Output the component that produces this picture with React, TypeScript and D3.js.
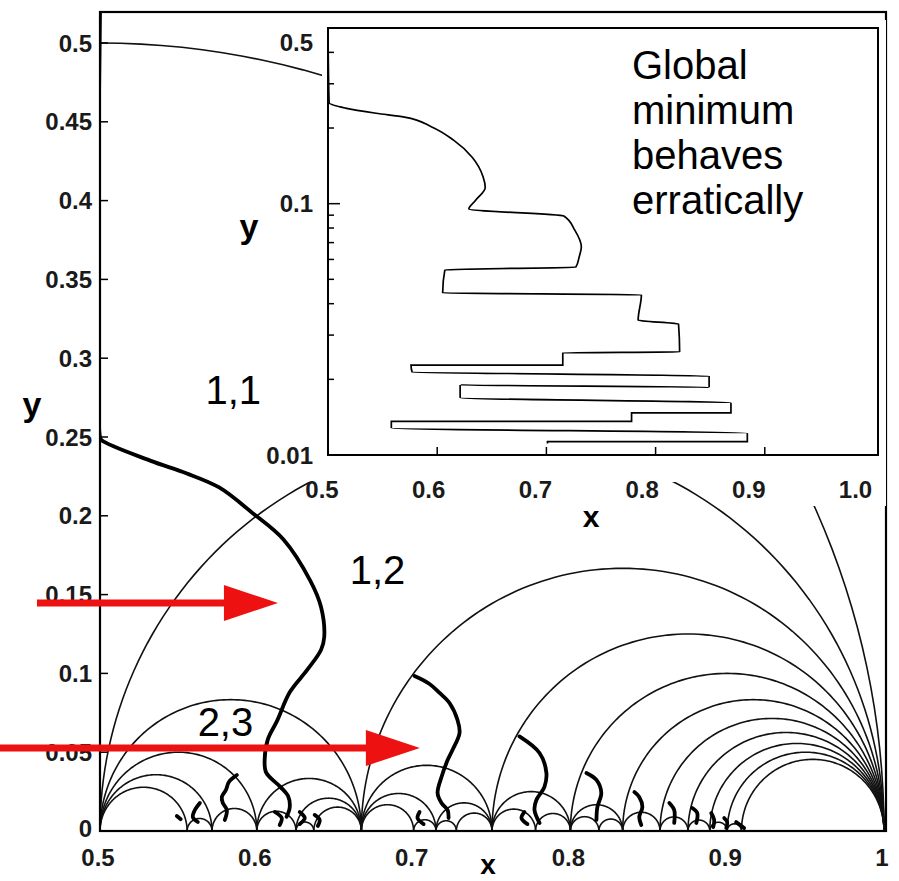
import React, { useEffect, useRef } from "react";
import * as d3 from "d3";

const W = 899;
const H = 881;
const FONT = "'Liberation Sans', Arial, Helvetica, sans-serif";
const RED = "#ee1111";

// main panel ticks
const X_TICKS = [0.5, 0.6, 0.7, 0.8, 0.9, 1];
const X_TICK_LABELS = ["0.5", "0.6", "0.7", "0.8", "0.9", "1"];
const Y_TICKS = [0, 0.05, 0.1, 0.15, 0.2, 0.25, 0.3, 0.35, 0.4, 0.45, 0.5];
const Y_TICK_LABELS = ["0", "0.05", "0.1", "0.15", "0.2", "0.25", "0.3", "0.35", "0.4", "0.45", "0.5"];

// Farey semicircles, endpoints on the x axis
const ARCS_FROM_ONE: [number, number][] = [
  [0, 1], [1 / 2, 1], [2 / 3, 1], [3 / 4, 1], [4 / 5, 1], [5 / 6, 1],
  [6 / 7, 1], [7 / 8, 1], [8 / 9, 1], [9 / 10, 1], [10 / 11, 1],
];
const ARCS_FROM_HALF: [number, number][] = [
  [1 / 2, 2 / 3], [1 / 2, 3 / 5], [1 / 2, 4 / 7], [1 / 2, 5 / 9],
];
const ARCS_SMALL: [number, number][] = [
  [5 / 9, 4 / 7], [4 / 7, 3 / 5], [3 / 5, 2 / 3], [3 / 5, 5 / 8], [5 / 8, 2 / 3],
  [5 / 8, 7 / 11], [7 / 11, 2 / 3], [2 / 3, 3 / 4], [2 / 3, 5 / 7], [2 / 3, 7 / 10],
  [7 / 10, 5 / 7], [5 / 7, 3 / 4], [5 / 7, 8 / 11], [8 / 11, 3 / 4], [3 / 4, 4 / 5],
  [3 / 4, 7 / 9], [7 / 9, 4 / 5], [4 / 5, 5 / 6], [4 / 5, 9 / 11], [9 / 11, 5 / 6],
  [5 / 6, 6 / 7], [6 / 7, 7 / 8], [7 / 8, 8 / 9], [8 / 9, 9 / 10], [9 / 10, 10 / 11],
];

// thick boundary curves in the main panel [x, y]
const BOUNDARY_MAIN: [number, number][] = [
  [0.5, 0.52], [0.5, 0.25], [0.501, 0.248], [0.532, 0.235], [0.555, 0.227], [0.576, 0.218],
  [0.597, 0.202], [0.617, 0.185], [0.634, 0.159], [0.641, 0.142], [0.643, 0.123],
  [0.641, 0.115], [0.632, 0.102], [0.621, 0.088], [0.613, 0.07], [0.607, 0.058],
  [0.605, 0.045], [0.606, 0.037], [0.615, 0.028], [0.62, 0.022], [0.621, 0.015], [0.619, 0.009],
];
const BOUNDARY_B: [number, number][] = [
  [0.7006, 0.0983], [0.7102, 0.0933], [0.7166, 0.0876], [0.7229, 0.0812], [0.728, 0.0704],
  [0.7293, 0.0622], [0.7248, 0.0514], [0.7217, 0.045], [0.7178, 0.0343], [0.7153, 0.0241],
  [0.7178, 0.0178], [0.7217, 0.0133], [0.7223, 0.0082],
];
const BOUNDARY_C: [number, number][] = [
  [0.7675, 0.06], [0.7803, 0.0495], [0.7847, 0.0368], [0.7834, 0.0279], [0.7783, 0.0197],
  [0.7771, 0.0133], [0.7803, 0.0051],
];
const BOUNDARY_D: [number, number][] = [
  [0.8102, 0.0368], [0.8166, 0.0324], [0.8197, 0.0241], [0.8172, 0.0152], [0.8166, 0.007],
];
const BOUNDARY_E: [number, number][] = [
  [0.8408, 0.0247], [0.8439, 0.0216], [0.8459, 0.0152], [0.8439, 0.0089], [0.8452, 0.0038],
];
const BOUNDARY_F: [number, number][] = [[0.8631, 0.0178], [0.8662, 0.0133], [0.8662, 0.0051]];
const BOUNDARY_G: [number, number][] = [[0.8777, 0.0146], [0.8809, 0.0114], [0.8803, 0.0051]];
const BOUNDARY_H: [number, number][] = [[0.8898, 0.0114], [0.8917, 0.007], [0.8911, 0.0025]];
const BOUNDARY_I: [number, number][] = [[0.8981, 0.0082], [0.9, 0.0057], [0.8994, 0.0019]];
const BOUNDARY_J: [number, number][] = [[0.9057, 0.0057], [0.9083, 0.0038], [0.9108, 0.0019]];
const BOUNDARY_K: [number, number][] = [
  [0.5873, 0.0355], [0.5822, 0.0311], [0.5803, 0.026], [0.5777, 0.0216], [0.5783, 0.0178],
  [0.5809, 0.0133], [0.5796, 0.007],
];
const BOUNDARY_L: [number, number][] = [[0.5637, 0.0178], [0.5605, 0.0133], [0.5592, 0.0089], [0.5624, 0.0057]];
const SPECKS: [number, number][][] = [
  [[0.549, 0.0095], [0.5515, 0.0075]],
  [[0.6115, 0.0121], [0.6159, 0.0082], [0.6146, 0.0038]],
  [[0.6274, 0.0121], [0.6306, 0.0082], [0.6274, 0.0044]],
  [[0.6369, 0.0102], [0.6401, 0.007], [0.6389, 0.0032]],
  [[0.7038, 0.0121], [0.7025, 0.0082], [0.7064, 0.0044]],
  [[0.7707, 0.0121], [0.7688, 0.0082], [0.7726, 0.0044]],
];

// inset: global minimum, x vs log y
const INSET_X_TICKS = [0.5, 0.6, 0.7, 0.8, 0.9, 1.0];
const INSET_X_LABELS = ["0.5", "0.6", "0.7", "0.8", "0.9", "1.0"];
const INSET_Y_LABELLED = [0.01, 0.1, 0.5];
const INSET_Y_LABELS = ["0.01", "0.1", "0.5"];
const INSET_Y_MINOR = [0.02, 0.03, 0.04, 0.05, 0.06, 0.07, 0.08, 0.09, 0.2, 0.3, 0.4];
const GLOBAL_MIN: [number, number][] = [
  [0.5, 0.5], [0.501, 0.252], [0.516, 0.24], [0.544, 0.229], [0.57, 0.221], [0.595, 0.202],
  [0.615, 0.179], [0.632, 0.153], [0.642, 0.128], [0.644, 0.116], [0.635, 0.103],
  [0.629, 0.0952], [0.716, 0.0893], [0.726, 0.0785], [0.732, 0.0673], [0.73, 0.0614],
  [0.727, 0.056], [0.607, 0.0545], [0.605, 0.0441], [0.787, 0.0434], [0.784, 0.0344],
  [0.821, 0.0332], [0.822, 0.0257], [0.715, 0.0255], [0.715, 0.0228], [0.576, 0.0228],
  [0.577, 0.0214], [0.849, 0.0206], [0.849, 0.0186], [0.621, 0.019], [0.621, 0.0169],
  [0.869, 0.0161], [0.869, 0.0147], [0.778, 0.0147], [0.778, 0.0136], [0.558, 0.0136],
  [0.558, 0.0128], [0.884, 0.0122], [0.884, 0.0113], [0.701, 0.0113], [0.701, 0.0111],
];

// annotations in main-panel data units
const REGION_LABELS = [
  { text: "1,1", x: 0.585, y: 0.28 },
  { text: "1,2", x: 0.677, y: 0.166 },
  { text: "2,3", x: 0.58, y: 0.0692 },
];
const ARROWS = [
  { x0: 0.4598, x1: 0.6135, y: 0.1447 },
  { x0: 0.436, x1: 0.704, y: 0.0527 },
];
const NOTE = ["Global", "minimum", "behaves", "erratically"];

export default function App() {
  const ref = useRef<SVGSVGElement>(null);

  useEffect(() => {
    if (!ref.current) return;
    const svg = d3.select(ref.current);
    svg.selectAll("*").remove();

    const x = d3.scaleLinear().domain([0.5, 1]).range([100, 884]);
    const y = d3.scaleLinear().domain([0, 0.5]).range([831, 43]);

    svg.append("rect").attr("width", W).attr("height", H).attr("fill", "#fff");
    svg.append("defs").append("clipPath").attr("id", "plotclip")
      .append("rect").attr("x", 100).attr("y", 12).attr("width", 786).attr("height", 819);

    const plot = svg.append("g").attr("clip-path", "url(#plotclip)");

    // semicircles
    const angles = d3.range(0, 121).map((i) => (Math.PI * i) / 120);
    const arcLine = d3.line<number>();
    const arcPath = ([a, b]: [number, number]) => {
      const c = (a + b) / 2;
      const r = (b - a) / 2;
      return arcLine(angles.map((t) => [x(c + r * Math.cos(t)), y(r * Math.sin(t))] as [number, number]));
    };
    plot.selectAll("path.arc")
      .data([...ARCS_FROM_ONE, ...ARCS_FROM_HALF, ...ARCS_SMALL])
      .join("path")
      .attr("class", "arc")
      .attr("d", (d) => arcPath(d))
      .attr("fill", "none")
      .attr("stroke", "#111")
      .attr("stroke-width", 1.6);

    const thick = d3.line<[number, number]>()
      .x((d) => x(d[0]))
      .y((d) => y(d[1]))
      .curve(d3.curveCatmullRom.alpha(0.5));
    const boundaries = [
      BOUNDARY_MAIN, BOUNDARY_B, BOUNDARY_C, BOUNDARY_D, BOUNDARY_E, BOUNDARY_F,
      BOUNDARY_G, BOUNDARY_H, BOUNDARY_I, BOUNDARY_J, BOUNDARY_K, BOUNDARY_L, ...SPECKS,
    ];
    plot.selectAll("path.bnd")
      .data(boundaries)
      .join("path")
      .attr("class", "bnd")
      .attr("d", (d) => thick(d))
      .attr("fill", "none")
      .attr("stroke", "#000")
      .attr("stroke-width", 3.8)
      .attr("stroke-linecap", "round")
      .attr("stroke-linejoin", "round");

    // main frame
    svg.append("rect")
      .attr("x", 100).attr("y", 12).attr("width", 786).attr("height", 819)
      .attr("fill", "none").attr("stroke", "#000").attr("stroke-width", 2.2);

    svg.selectAll("line.ytick")
      .data(Y_TICKS)
      .join("line")
      .attr("class", "ytick")
      .attr("x1", 100).attr("x2", 108)
      .attr("y1", (d) => y(d)).attr("y2", (d) => y(d))
      .attr("stroke", "#000").attr("stroke-width", 1.5);

    svg.selectAll("text.ylab")
      .data(Y_TICKS)
      .join("text")
      .attr("class", "ylab")
      .attr("x", 92)
      .attr("y", (d) => y(d) - (d === 0 ? 3 : 0))
      .attr("dy", "0.36em")
      .attr("text-anchor", "end")
      .attr("font-family", FONT)
      .attr("font-size", 24)
      .attr("font-weight", "bold")
      .attr("fill", "#1a1a1a")
      .text((d, i) => Y_TICK_LABELS[i]);

    svg.selectAll("text.xlab")
      .data(X_TICKS)
      .join("text")
      .attr("class", "xlab")
      .attr("x", (d) => x(d) - 2)
      .attr("y", 866)
      .attr("text-anchor", "middle")
      .attr("font-family", FONT)
      .attr("font-size", 24)
      .attr("font-weight", "bold")
      .attr("fill", "#1a1a1a")
      .text((d, i) => X_TICK_LABELS[i]);

    svg.append("text").attr("x", 32).attr("y", 416).attr("text-anchor", "middle")
      .attr("font-family", FONT).attr("font-size", 34).attr("font-weight", "bold").text("y");
    svg.append("text").attr("x", 488).attr("y", 874).attr("text-anchor", "middle")
      .attr("font-family", FONT).attr("font-size", 28).attr("font-weight", "bold").text("x");

    // inset
    const ix = d3.scaleLinear().domain([0.5, 1.0]).range([328, 874]);
    const iy = d3.scaleLog().domain([0.01, 0.5]).range([455, 28]);

    svg.append("path")
      .attr("d", "M322,20 H886 V506 H760 V482 H296 V455 H322 Z")
      .attr("fill", "#fff");
    svg.append("rect")
      .attr("x", 328).attr("y", 28).attr("width", 550).attr("height", 427)
      .attr("fill", "#fff").attr("stroke", "#000").attr("stroke-width", 2);

    const ig = svg.append("g");
    ig.append("path")
      .datum(GLOBAL_MIN)
      .attr("d", d3.line<[number, number]>().x((d) => ix(d[0])).y((d) => iy(d[1])).curve(d3.curveMonotoneY))
      .attr("fill", "none")
      .attr("stroke", "#000")
      .attr("stroke-width", 1.7);

    ig.selectAll("line.ixt")
      .data(INSET_X_TICKS.slice(1, 5))
      .join("line")
      .attr("class", "ixt")
      .attr("x1", (d) => ix(d)).attr("x2", (d) => ix(d))
      .attr("y1", 455).attr("y2", 447)
      .attr("stroke", "#000").attr("stroke-width", 1.5);
    ig.selectAll("line.iyt")
      .data([...INSET_Y_MINOR.map((v) => ({ v, len: 6 })), { v: 0.1, len: 12 }])
      .join("line")
      .attr("class", "iyt")
      .attr("x1", 328).attr("x2", (d) => 328 + d.len)
      .attr("y1", (d) => iy(d.v)).attr("y2", (d) => iy(d.v))
      .attr("stroke", "#000").attr("stroke-width", 1.5);

    ig.selectAll("text.ixl")
      .data(INSET_X_TICKS)
      .join("text")
      .attr("class", "ixl")
      .attr("x", (d, i) => ix(d) - 6 - i * 2.5)
      .attr("y", 498)
      .attr("text-anchor", "middle")
      .attr("font-family", FONT)
      .attr("font-size", 24)
      .attr("font-weight", "bold")
      .attr("fill", "#1a1a1a")
      .text((d, i) => INSET_X_LABELS[i]);
    ig.selectAll("text.iyl")
      .data(INSET_Y_LABELLED)
      .join("text")
      .attr("class", "iyl")
      .attr("x", 313)
      .attr("y", (d) => Math.max(iy(d), 42))
      .attr("dy", "0.36em")
      .attr("text-anchor", "end")
      .attr("font-family", FONT)
      .attr("font-size", 24)
      .attr("font-weight", "bold")
      .attr("fill", "#1a1a1a")
      .text((d, i) => INSET_Y_LABELS[i]);
    ig.append("text").attr("x", 249).attr("y", 238).attr("text-anchor", "middle")
      .attr("font-family", FONT).attr("font-size", 34).attr("font-weight", "bold").text("y");
    ig.append("text").attr("x", 591).attr("y", 527).attr("text-anchor", "middle")
      .attr("font-family", FONT).attr("font-size", 30).attr("font-weight", "bold").text("x");

    svg.append("text")
      .attr("x", 632)
      .attr("y", 79)
      .attr("font-family", FONT)
      .attr("font-size", 40)
      .attr("fill", "#000")
      .selectAll("tspan")
      .data(NOTE)
      .join("tspan")
      .attr("x", 632)
      .attr("dy", (d, i) => (i === 0 ? 0 : 45))
      .text((d) => d);

    svg.selectAll("text.region")
      .data(REGION_LABELS)
      .join("text")
      .attr("class", "region")
      .attr("x", (d) => x(d.x))
      .attr("y", (d) => y(d.y))
      .attr("dy", "0.36em")
      .attr("text-anchor", "middle")
      .attr("font-family", FONT)
      .attr("font-size", 40)
      .attr("fill", "#000")
      .text((d) => d.text);

    // red arrows
    const ag = svg.append("g");
    ARROWS.forEach((a) => {
      const tip = x(a.x1);
      const yy = y(a.y);
      ag.append("line")
        .attr("x1", x(a.x0)).attr("x2", tip - 50)
        .attr("y1", yy).attr("y2", yy)
        .attr("stroke", RED).attr("stroke-width", 7);
      ag.append("path")
        .attr("d", `M${tip},${yy} L${tip - 54},${yy - 18} L${tip - 54},${yy + 18} Z`)
        .attr("fill", RED);
    });
  }, []);

  return (
    <div style={{ position: "absolute", left: 0, top: 0 }}>
      <svg ref={ref} width={W} height={H} viewBox={`0 0 ${W} ${H}`} style={{ display: "block" }} />
    </div>
  );
}
